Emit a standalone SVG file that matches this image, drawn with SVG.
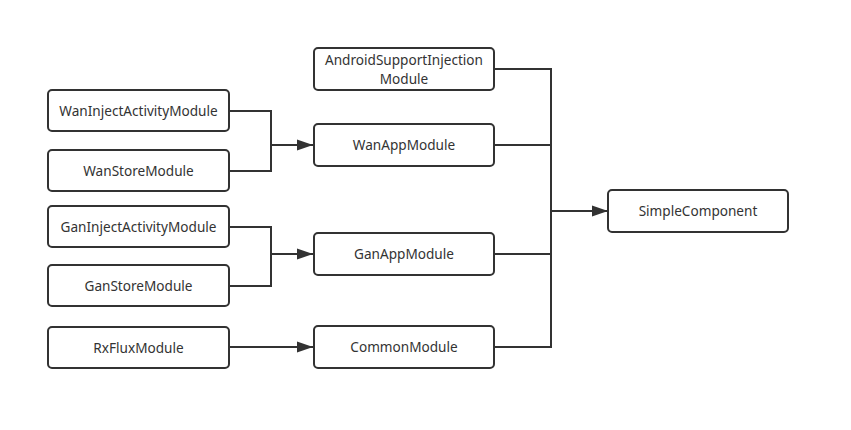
<svg xmlns="http://www.w3.org/2000/svg" width="851" height="430" viewBox="0 0 851 430">
<style>
.box{fill:#fff;stroke:#323232;stroke-width:2}
.t{font-family:"Noto Sans","Open Sans",sans-serif;font-size:13.6px;fill:#333;text-anchor:middle}
.c{fill:none;stroke:#323232;stroke-width:2}
</style>
<defs>
<marker id="b" markerWidth="16" markerHeight="12" refX="16" refY="6" orient="auto" markerUnits="userSpaceOnUse" viewBox="0 0 16 12">
<path d="M0,0.5 L16,6 L0,11.5 Z" fill="#323232"/>
</marker>
</defs>
<rect width="851" height="430" fill="#fff"/>
<g id="connectors">
<path class="c" d="M229,111 H271 V171 H229"/>
<path class="c" d="M271,145 H313" marker-end="url(#b)"/>
<path class="c" d="M229,227 H271 V286 H229"/>
<path class="c" d="M271,254 H313" marker-end="url(#b)"/>
<path class="c" d="M229,347 H313" marker-end="url(#b)"/>
<path class="c" d="M494,69 H551 V347 H494"/>
<path class="c" d="M494,145 H551"/>
<path class="c" d="M494,254 H551"/>
<path class="c" d="M551,211 H608" marker-end="url(#b)"/>
</g>
<g id="WanInjectActivityModule"><rect class="box" x="48" y="90" width="181" height="41" rx="4"/><text class="t" x="138.5" y="115.5">WanInjectActivityModule</text></g>
<g id="WanStoreModule"><rect class="box" x="48" y="150" width="181" height="41" rx="4"/><text class="t" x="138.5" y="175.5">WanStoreModule</text></g>
<g id="GanInjectActivityModule"><rect class="box" x="48" y="206" width="181" height="41" rx="4"/><text class="t" x="138.5" y="231.5">GanInjectActivityModule</text></g>
<g id="GanStoreModule"><rect class="box" x="48" y="265" width="181" height="41" rx="4"/><text class="t" x="138.5" y="290.5">GanStoreModule</text></g>
<g id="RxFluxModule"><rect class="box" x="48" y="327" width="181" height="41" rx="4"/><text class="t" x="138.5" y="352.5">RxFluxModule</text></g>
<g id="AndroidSupportInjectionModule"><rect class="box" x="314" y="48" width="180" height="42" rx="4"/><text class="t" x="404" y="64.5">AndroidSupportInjection</text><text class="t" x="404" y="83.5">Module</text></g>
<g id="WanAppModule"><rect class="box" x="314" y="124" width="180" height="42" rx="4"/><text class="t" x="404" y="150">WanAppModule</text></g>
<g id="GanAppModule"><rect class="box" x="314" y="233" width="180" height="42" rx="4"/><text class="t" x="404" y="259">GanAppModule</text></g>
<g id="CommonModule"><rect class="box" x="314" y="326" width="180" height="42" rx="4"/><text class="t" x="404" y="352">CommonModule</text></g>
<g id="SimpleComponent"><rect class="box" x="608" y="190" width="180" height="42" rx="4"/><text class="t" x="698" y="216">SimpleComponent</text></g>
</svg>
